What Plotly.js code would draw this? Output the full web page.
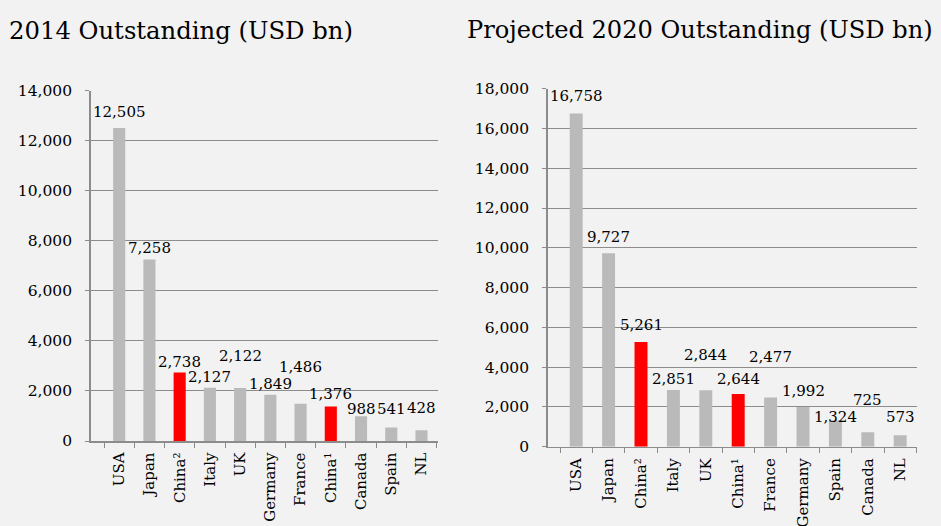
<!DOCTYPE html>
<html>
<head>
<meta charset="utf-8">
<script src="https://cdn.plot.ly/plotly-3.0.1.min.js"></script>
<style>html,body{margin:0;padding:0;background:#F2F2F2;}#chart{width:941px;height:526px;}</style>
</head>
<body>
<div id="chart"></div>
<script>
// ---- data ----
const cats2014 = ["USA", "Japan", "China²", "Italy", "UK", "Germany", "France", "China¹", "Canada", "Spain", "NL"];
const vals2014 = [12505, 7258, 2738, 2127, 2122, 1849, 1486, 1376, 988, 541, 428];
const cats2020 = ["USA", "Japan", "China²", "Italy", "UK", "China¹", "France", "Germany", "Spain", "Canada", "NL"];
const vals2020 = [16758, 9727, 5261, 2851, 2844, 2644, 2477, 1992, 1324, 725, 573];
const title2014 = "2014 Outstanding (USD bn)";
const title2020 = "Projected 2020 Outstanding (USD bn)";

// ---- label styling (pixel lift of each data label above its bar) ----
const lift2014 = [16, 11, 10, 11, 32, 11, 37, 13, 7, 18, 22];
const lift2020 = [17, 16, 17, 11, 35, 15, 40, 16, 3, 32, 18];

const FONT = "DejaVu Serif, Liberation Serif, serif";
const GREY = "#BABABA", RED = "#FF0000", LINE = "#8C8C8C";
const colorsFor = cats => cats.map(c => c.indexOf("China") === 0 ? RED : GREY);
const fmt = v => v.toLocaleString("en-US");

const traces = [
  {type: "bar", x: cats2014, y: vals2014, xaxis: "x", yaxis: "y",
   marker: {color: colorsFor(cats2014)}, hoverinfo: "x+y"},
  {type: "bar", x: cats2020, y: vals2020, xaxis: "x2", yaxis: "y2",
   marker: {color: colorsFor(cats2020)}, hoverinfo: "x+y"}
];

const annotations = [];
cats2014.forEach((c, i) => annotations.push({xref: "x", yref: "y", x: c, y: vals2014[i],
  text: fmt(vals2014[i]), showarrow: false, yanchor: "middle", yshift: lift2014[i],
  font: {family: FONT, size: 15, color: "#000"}}));
cats2020.forEach((c, i) => annotations.push({xref: "x2", yref: "y2", x: c, y: vals2020[i],
  text: fmt(vals2020[i]), showarrow: false, yanchor: "middle", yshift: lift2020[i],
  font: {family: FONT, size: 15, color: "#000"}}));
annotations.push({xref: "paper", yref: "paper", x: 7/941, y: 1 - 30/526, xanchor: "left", yanchor: "middle",
  text: title2014, showarrow: false, font: {family: FONT, size: 24.3, color: "#000"}});
annotations.push({xref: "paper", yref: "paper", x: 465/941, y: 1 - 30/526, xanchor: "left", yanchor: "middle",
  text: title2020, showarrow: false, font: {family: FONT, size: 24.1, color: "#000"}});

const xCommon = {type: "category", showline: true, linecolor: LINE, linewidth: 1.5,
  ticks: "outside", tickson: "boundaries", ticklen: 5, tickcolor: LINE, tickangle: -90,
  tickfont: {family: FONT, size: 15, color: "#000"}, ticklabelstandoff: 4,
  showgrid: false, fixedrange: true};
const yCommon = {showline: true, linecolor: LINE, linewidth: 1.5, ticks: "outside", ticklen: 4,
  tickcolor: LINE, showgrid: true, gridcolor: LINE, gridwidth: 1, zeroline: false,
  tickformat: ",d", tickfont: {family: FONT, size: 15.5, color: "#000"}, ticklabelstandoff: 10,
  dtick: 2000, fixedrange: true};

const layout = {
  width: 941, height: 526,
  margin: {l: 0, r: 0, t: 0, b: 0},
  paper_bgcolor: "#F2F2F2", plot_bgcolor: "#F2F2F2",
  showlegend: false, bargap: 0.6,
  xaxis: Object.assign({}, xCommon, {domain: [90.7/941, 438/941], anchor: "y"}),
  yaxis: Object.assign({}, yCommon, {domain: [1 - 441/526, 1 - 90.7/526], range: [0, 14000], anchor: "x"}),
  xaxis2: Object.assign({}, xCommon, {domain: [547.7/941, 916.7/941], anchor: "y2"}),
  yaxis2: Object.assign({}, yCommon, {domain: [1 - 446.7/526, 1 - 88.7/526], range: [0, 18000], anchor: "x2"}),
  annotations: annotations
};

Plotly.newPlot("chart", traces, layout, {displayModeBar: false, staticPlot: true});
</script>
</body>
</html>
